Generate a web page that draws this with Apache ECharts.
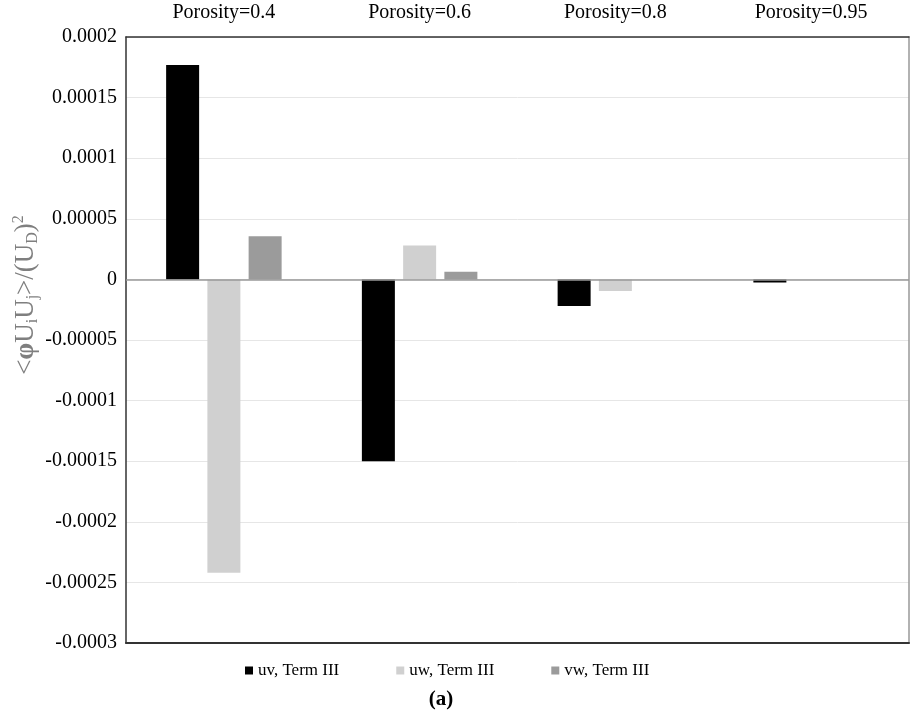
<!DOCTYPE html>
<html>
<head>
<meta charset="utf-8">
<style>
  html, body { margin: 0; padding: 0; background: #fff; }
  #container { width: 910px; height: 717px; }
</style>
<script src="https://cdn.jsdelivr.net/npm/echarts@6/dist/echarts.min.js"></script>
</head>
<body>
<div id="container"></div>
<script>
// values
const categories = ['Porosity=0.4', 'Porosity=0.6', 'Porosity=0.8', 'Porosity=0.95'];
const seriesNames = ['uv, Term III', 'uw, Term III', 'vw, Term III'];
const uvTerm3 = [0.000177, -0.00015, -0.000022, -0.0000025];
const uwTerm3 = [-0.000242, 0.000028, -0.0000095, 0];
const vwTerm3 = [0.0000355, 0.0000063, 0, 0];
const yTicks = ['-0.0003', '-0.00025', '-0.0002', '-0.00015', '-0.0001', '-0.00005',
                '0', '0.00005', '0.0001', '0.00015', '0.0002'];

const yMin = -0.0003, yMax = 0.0002, yStep = 0.00005;
const serif = '"Liberation Serif", "DejaVu Serif", serif';
const darkLine = { show: true, lineStyle: { color: '#333', width: 1.5 } };

const chart = echarts.init(document.getElementById('container'), null, { renderer: 'canvas' });

function bar(name, data, color, withZero) {
    const s = {
        name: name,
        type: 'bar',
        data: data,
        barWidth: 33,
        barGap: '25%',
        itemStyle: { color: color },
        xAxisIndex: 0,
        yAxisIndex: 0
    };
    if (withZero) {
        s.markLine = {
            silent: true,
            symbol: 'none',
            label: { show: false },
            lineStyle: { color: '#999', width: 1.5, type: 'solid' },
            data: [{ yAxis: 0 }]
        };
    }
    return s;
}

const option = {
    backgroundColor: '#fff',
    animation: false,
    grid: { left: 126, top: 37, right: 1, bottom: 74 },
    legend: {
        left: 240,
        top: 657,
        itemWidth: 8,
        itemHeight: 8,
        itemGap: 57,
        icon: 'rect',
        textStyle: { fontFamily: serif, fontSize: 17, color: '#000' },
        data: seriesNames
    },
    xAxis: [
        {
            type: 'category',
            position: 'top',
            data: categories,
            axisLine: { show: true, onZero: false, lineStyle: { color: '#333', width: 1.5 } },
            axisTick: { show: false },
            axisLabel: { fontFamily: serif, fontSize: 20, color: '#000', margin: 14 }
        },
        {
            type: 'category',
            position: 'bottom',
            data: categories,
            axisLine: { show: true, onZero: false, lineStyle: { color: '#333', width: 2 } },
            axisTick: { show: false },
            axisLabel: { show: false }
        }
    ],
    yAxis: [
        {
            type: 'value',
            min: yMin,
            max: yMax,
            interval: yStep,
            axisLine: darkLine,
            axisTick: { show: false },
            splitLine: { lineStyle: { color: '#e6e6e6', width: 1 } },
            axisLabel: {
                fontFamily: serif,
                fontSize: 20,
                color: '#000',
                margin: 9,
                formatter: v => yTicks[Math.round((v - yMin) / yStep)]
            }
        },
        {
            type: 'value',
            position: 'right',
            min: yMin,
            max: yMax,
            interval: yStep,
            axisLine: { show: true, lineStyle: { color: '#999', width: 1.5 } },
            axisTick: { show: false },
            splitLine: { show: false },
            axisLabel: { show: false }
        }
    ],
    graphic: [
        {
            type: 'text',
            x: 26,
            y: 295,
            rotation: Math.PI / 2,
            style: {
                text: '{b|<}{p|φ}{b|U}{s|i}{b|U}{s|j}{b|>/(U}{s|D}{b|)}{t|2}',
                textAlign: 'center',
                textVerticalAlign: 'middle',
                fill: '#7f7f7f',
                rich: {
                    b: { fontFamily: serif, fontSize: 27, fill: '#7f7f7f', lineHeight: 34, verticalAlign: 'middle' },
                    p: { fontFamily: serif, fontSize: 27, fontWeight: 'bold', fill: '#7f7f7f', lineHeight: 34, verticalAlign: 'middle' },
                    s: { fontFamily: serif, fontSize: 16, fill: '#7f7f7f', lineHeight: 34, verticalAlign: 'bottom', padding: [0, 0, 2, 0] },
                    t: { fontFamily: serif, fontSize: 16, fill: '#7f7f7f', lineHeight: 34, verticalAlign: 'top', padding: [2, 0, 0, 0] }
                }
            }
        },
        {
            type: 'text',
            x: 441,
            y: 700,
            style: {
                text: '(a)',
                textAlign: 'center',
                textVerticalAlign: 'middle',
                fontFamily: serif,
                fontSize: 21,
                fontWeight: 'bold',
                fill: '#000'
            }
        }
    ],
    series: [
        bar(seriesNames[0], uvTerm3, '#000000', true),
        bar(seriesNames[1], uwTerm3, '#d0d0d0', false),
        bar(seriesNames[2], vwTerm3, '#9b9b9b', false)
    ]
};

chart.setOption(option);
window.addEventListener('resize', () => chart.resize());
</script>
</body>
</html>
